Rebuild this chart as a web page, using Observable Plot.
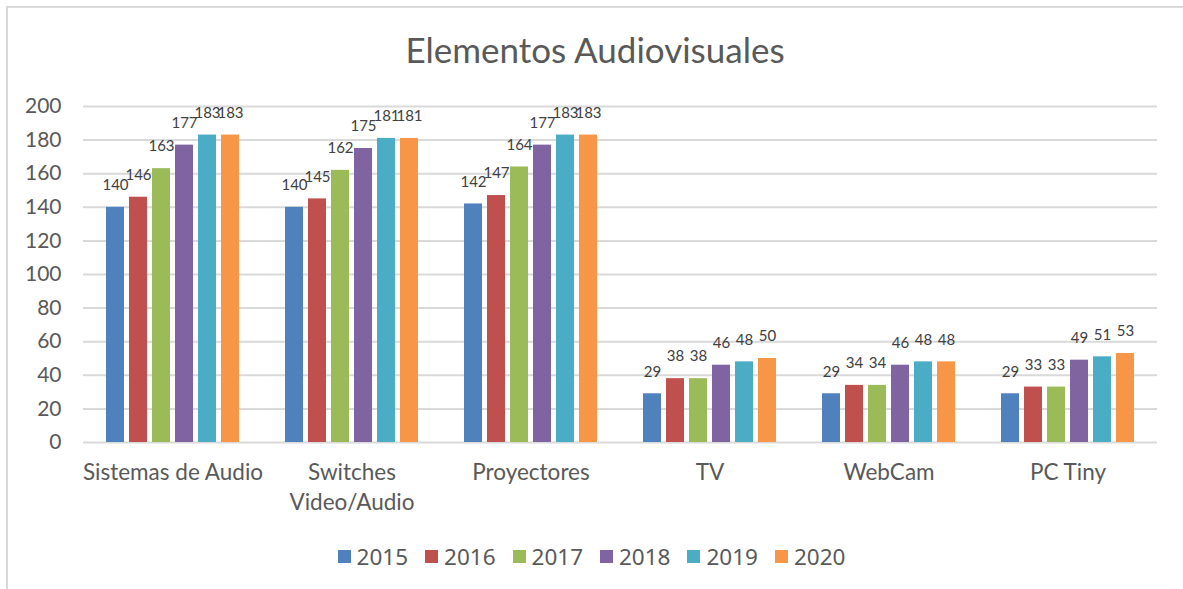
<!DOCTYPE html>
<html>
<head>
<meta charset="utf-8">
<script src="https://cdn.jsdelivr.net/npm/d3@7"></script>
<script src="https://cdn.jsdelivr.net/npm/@observablehq/plot@0.6"></script>
<style>
  html, body { margin: 0; padding: 0; background: #fff; }
  #chart { position: relative; width: 1183px; height: 589px; overflow: hidden; font-family: Lato, "Open Sans", sans-serif; }
  #frame { position: absolute; left: 6px; top: 6px; width: 1200px; height: 600px; border-top: 2px solid #d9d9d9; border-left: 2px solid #d9d9d9; box-sizing: border-box; }
  #title { position: absolute; left: 0; width: 1190px; top: 29px; text-align: center; font-size: 35px; color: #595959; line-height: 40px; }
  #plot { position: absolute; left: 0; top: 90px; }
  #legend { position: absolute; left: 0; width: 1200px; top: 540px; display: flex; justify-content: center; }
  .lg-swatch { margin-right: 17px !important; font-size: 22.5px; color: #595959; }
  .lg-swatch > svg { margin-right: 6px !important; }
</style>
</head>
<body>
<div id="chart">
  <div id="frame"></div>
  <div id="title">Elementos Audiovisuales</div>
  <div id="plot"></div>
  <div id="legend"></div>
</div>
<script>
const categories = ["Sistemas de Audio", "Switches\nVideo/Audio", "Proyectores", "TV", "WebCam", "PC Tiny"];
const years = ["2015", "2016", "2017", "2018", "2019", "2020"];
const v2015 = [140, 140, 142, 29, 29, 29];
const v2016 = [146, 145, 147, 38, 34, 33];
const v2017 = [163, 162, 164, 38, 34, 33];
const v2018 = [177, 175, 177, 46, 46, 49];
const v2019 = [183, 181, 183, 48, 48, 51];
const v2020 = [183, 181, 183, 50, 48, 53];
const colors = ["#4F81BD", "#C0504D", "#9BBB59", "#8064A2", "#4BACC6", "#F79646"];
const yTicks = [0, 20, 40, 60, 80, 100, 120, 140, 160, 180, 200];

const series = [v2015, v2016, v2017, v2018, v2019, v2020];
const data = [];
categories.forEach((c, i) => {
  years.forEach((y, j) => data.push({cat: c, year: y, value: series[j][i]}));
});

const chart = Plot.plot({
  width: 1183,
  height: 430,
  marginTop: 16,
  marginBottom: 78,
  marginLeft: 83,
  marginRight: 26,
  style: {fontFamily: "Lato, 'Open Sans', sans-serif", fontSize: "20px", color: "#595959", background: "transparent"},
  fx: {domain: categories, paddingInner: 0, paddingOuter: 0, label: null},
  x: {domain: years, paddingInner: 0.2, paddingOuter: 0.84, axis: null},
  y: {domain: [0, 200], label: null},
  color: {domain: years, range: colors},
  marks: [
    Plot.ruleY(yTicks, {stroke: "#d9d9d9", strokeWidth: 2}),
    Plot.axisY({ticks: yTicks, tickSize: 0, tickPadding: 22, fontSize: 21, fill: "#595959", label: null}),
    Plot.axisFx({anchor: "bottom", tickSize: 0, tickPadding: 16, fontSize: 22.5, fill: "#595959", lineHeight: 1.33, label: null}),
    Plot.barY(data, {fx: "cat", x: "year", y: "value", fill: "year"}),
    Plot.text(data, {fx: "cat", x: "year", y: "value", text: d => String(d.value), dy: -22, fontSize: 15, fill: "#404040"})
  ]
});
document.getElementById("plot").appendChild(chart);

const legend = Plot.legend({color: {domain: years, range: colors}, swatchSize: 13, className: "lg"});
document.getElementById("legend").appendChild(legend);
</script>
</body>
</html>
